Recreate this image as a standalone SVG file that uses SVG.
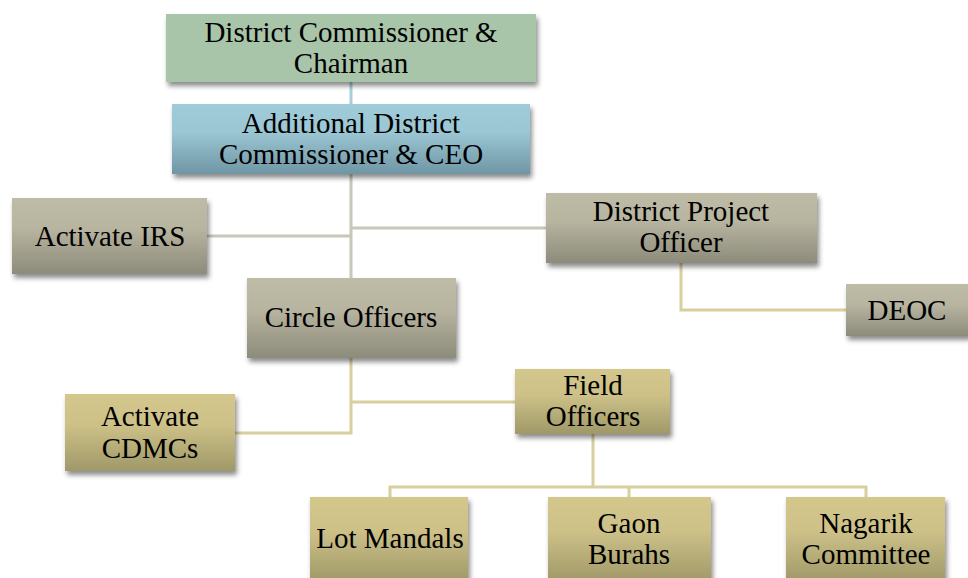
<svg xmlns="http://www.w3.org/2000/svg" width="968" height="578" viewBox="0 0 968 578">
<defs>
<linearGradient id="gBlue" x1="0" y1="0" x2="0" y2="1"><stop offset="0" stop-color="#a0ccda"/><stop offset="0.4" stop-color="#9bc6d4"/><stop offset="1" stop-color="#6f96a4"/></linearGradient>
<linearGradient id="gGray" x1="0" y1="0" x2="0" y2="1"><stop offset="0" stop-color="#bebba6"/><stop offset="0.4" stop-color="#b7b4a0"/><stop offset="1" stop-color="#8d8b7a"/></linearGradient>
<linearGradient id="gTan" x1="0" y1="0" x2="0" y2="1"><stop offset="0" stop-color="#d3c78c"/><stop offset="0.4" stop-color="#cdc188"/><stop offset="1" stop-color="#9f9868"/></linearGradient>
<filter id="sh" x="-10%" y="-10%" width="125%" height="135%"><feDropShadow dx="2" dy="4" stdDeviation="2.5" flood-color="#000" flood-opacity="0.45"/></filter>
</defs>
<style>
text{font-family:"Liberation Serif","DejaVu Serif",serif;font-size:29px;fill:#000;text-anchor:middle}
.box{filter:url(#sh)}
.green{fill:#a8c5a9}
.blue{fill:url(#gBlue)}
.gray{fill:url(#gGray)}
.tan{fill:url(#gTan)}
.cg{stroke:#c9c7b8;stroke-width:3;fill:none}
.ct{stroke:#d8ce9e;stroke-width:3;fill:none}
.cb{stroke:#a9cdd9;stroke-width:3;fill:none}
</style>
<g id="connectors">
<path class="cb" d="M351 82V104"/>
<path class="cg" d="M351 174V278M207 236H351M352 228H546"/>
<path class="ct" d="M681 263V310H846"/>
<path class="ct" d="M351 358V433H235M351 402H515"/>
<path class="ct" d="M593 434V487M390 497V487H866V497M629 487V497"/>
</g>
<g id="dc"><rect class="box green" x="166" y="14" width="370" height="68"/><text x="351" y="42">District Commissioner &amp;</text><text x="351" y="73">Chairman</text></g>
<g id="adc"><rect class="box blue" x="172" y="104" width="358" height="70"/><text x="351" y="133">Additional District</text><text x="351" y="164">Commissioner &amp; CEO</text></g>
<g id="irs"><rect class="box gray" x="12" y="198" width="195" height="76"/><text x="110" y="246">Activate IRS</text></g>
<g id="dpo"><rect class="box gray" x="546" y="193" width="271" height="70"/><text x="681" y="221">District Project</text><text x="681" y="252">Officer</text></g>
<g id="deoc"><rect class="box gray" x="846" y="284" width="124" height="52"/><text x="907" y="320">DEOC</text></g>
<g id="co"><rect class="box gray" x="247" y="278" width="209" height="80"/><text x="351" y="327">Circle Officers</text></g>
<g id="cdmc"><rect class="box tan" x="65" y="394" width="170" height="77"/><text x="150" y="426">Activate</text><text x="150" y="458">CDMCs</text></g>
<g id="fo"><rect class="box tan" x="515" y="369" width="155" height="65"/><text x="593" y="395">Field</text><text x="593" y="426">Officers</text></g>
<g id="lm"><rect class="box tan" x="310" y="497" width="158" height="85"/><text x="390" y="548">Lot Mandals</text></g>
<g id="gb"><rect class="box tan" x="548" y="497" width="163" height="85"/><text x="629" y="533">Gaon</text><text x="629" y="564">Burahs</text></g>
<g id="nc"><rect class="box tan" x="786" y="497" width="159" height="85"/><text x="866" y="533">Nagarik</text><text x="866" y="564">Committee</text></g>
</svg>
